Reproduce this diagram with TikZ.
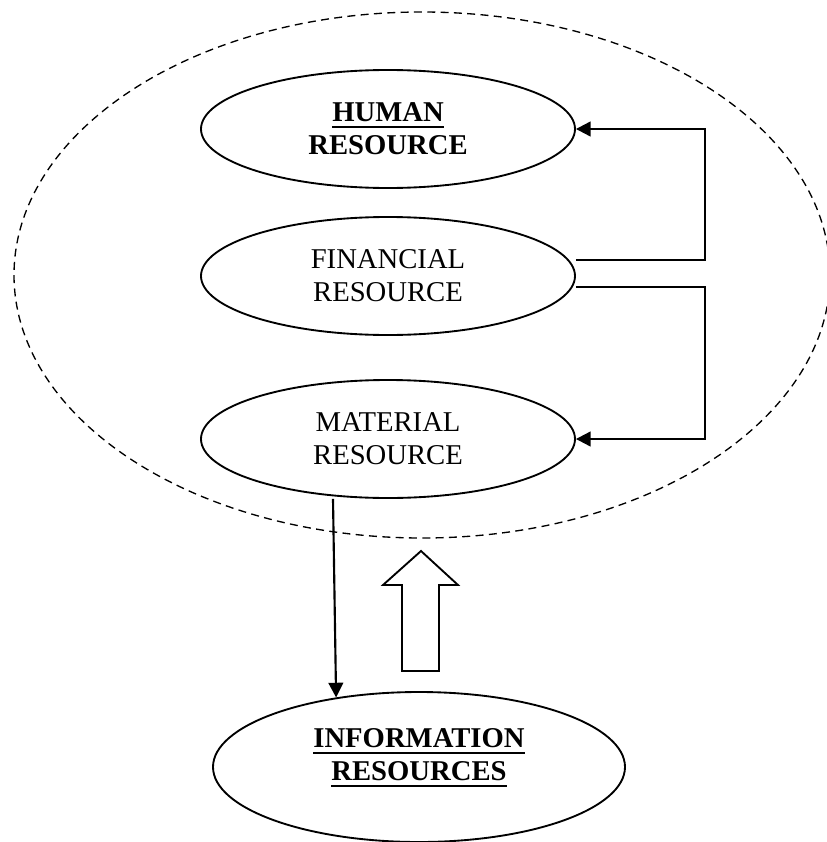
\documentclass[tikz,border=0pt]{standalone}
\usepackage{fontspec}
\setmainfont{Liberation Serif}
\usetikzlibrary{shapes.geometric,arrows.meta}
\def\ulword#1{\setbox0\hbox{#1}\rlap{\rule[-4.5pt]{\wd0}{1.6pt}}\box0}
\tikzset{resource/.style={ellipse, draw, line width=1.4pt, minimum width=280.5pt,
		minimum height=88.5pt, inner sep=0pt, align=center,
		font=\fontsize{21.5}{24.75}\selectfont},
	link/.style={line width=1.6pt, -{Triangle[length=11pt,width=11pt]}}}

\begin{document}
\begin{tikzpicture}[x=0.75pt,y=-0.75pt]
	\useasboundingbox (0,0) rectangle (827,842);
	% the resources of the firm
	\draw[dash pattern=on 6pt off 4pt, line width=1pt] (422,275) ellipse [x radius=306pt, y radius=197.25pt];
	\node[resource] (human) at (388,129) {\textbf{\ulword{HUMAN}}\\\textbf{RESOURCE}};
	\node[resource] (financial) at (388,276) {FINANCIAL\\RESOURCE};
	\node[resource] (material) at (388,439) {MATERIAL\\RESOURCE};
	
	\node[resource, minimum width=309pt, minimum height=112.5pt] (info) at (419,767) {};
	\node[align=center, font=\fontsize{21.5}{24.75}\selectfont\bfseries] (infotext) at ([yshift=7pt]info.center)
	{\ulword{INFORMATION}\\\ulword{RESOURCES}};
	
	\draw[link] ([yshift=12pt]financial.east) -- ++(129,0) |- (human.east);
	\draw[link] ([yshift=-8.25pt]financial.east) -- ++(129,0) |- (material.east);
	\draw[link] ([xshift=-41.25pt]material.south) -- (info.140);
	% hollow arrow up
	\draw[line width=1.4pt] (402,671) -- (402,585) -- (383,585) -- (421,551)
	-- (458,585) -- (439,585) -- (439,671) -- cycle;
\end{tikzpicture}
\end{document}
